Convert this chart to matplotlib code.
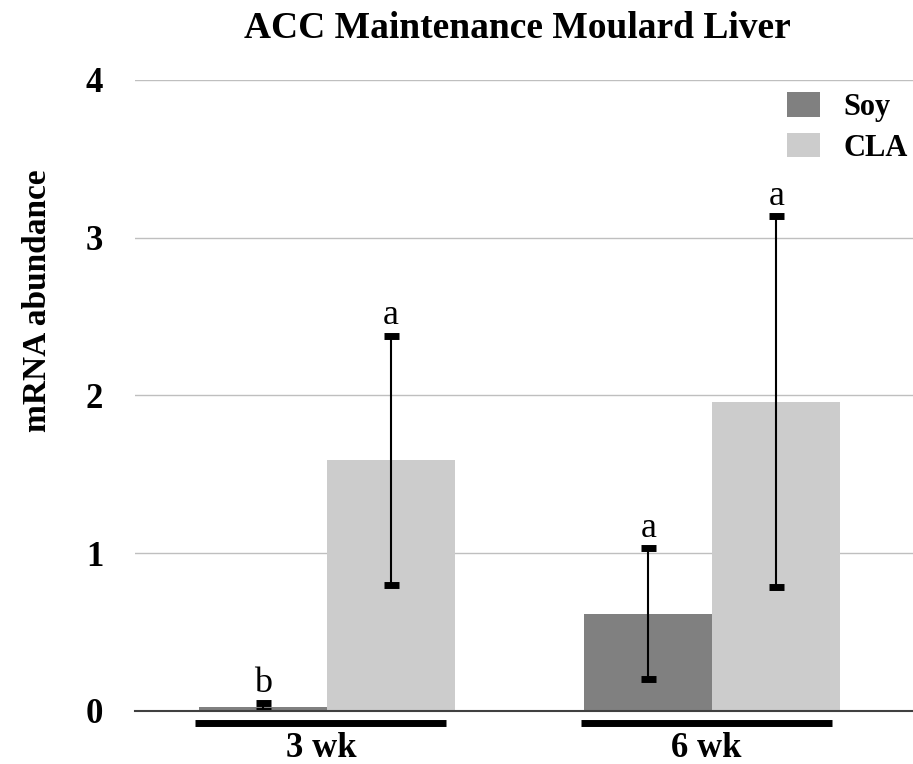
import numpy as np
import matplotlib.pyplot as plt

groups = ["3 wk", "6 wk"]
series = ["Soy", "CLA"]
soy_means = [0.025, 0.615]
soy_err = [0.025, 0.415]
cla_means = [1.59, 1.96]
cla_err = [0.79, 1.175]
soy_letters = ["b", "a"]
cla_letters = ["a", "a"]

plt.rcParams["font.family"] = ["Liberation Serif", "DejaVu Serif"]

fig = plt.figure(figsize=(9.13, 7.64), dpi=100)
ax = fig.add_axes([0.148, 0.0694, 0.852, 0.8259])

x = np.arange(len(groups))
w = 0.332
soy_x = x - w / 2
cla_x = x + w / 2

ax.bar(soy_x, soy_means, w, color="#808080", label=series[0], zorder=2)
ax.bar(cla_x, cla_means, w, color="#cccccc", label=series[1], zorder=2)

for xs, m, e, letters in [(soy_x, soy_means, soy_err, soy_letters),
                          (cla_x, cla_means, cla_err, cla_letters)]:
    ax.errorbar(xs, m, yerr=e, fmt="none", ecolor="black", elinewidth=1.5,
                capsize=5.4, capthick=5, zorder=3)
    for xi, mi, ei, lt in zip(xs, m, e, letters):
        ax.annotate(lt, (xi, mi + ei), xytext=(0, 8), textcoords="offset points",
                    ha="center", va="baseline", fontsize=26)

# thick underline under each group
for xi in x:
    ax.plot([xi - 0.342, xi + 0.31], [-0.076, -0.076], color="black", lw=5,
            solid_capstyle="butt", clip_on=False)

ax.set_xlim(-0.497, 1.52)
ax.set_ylim(0, 4)
ax.set_yticks([0, 1, 2, 3, 4])
ax.set_xticks(x - 0.015)
ax.set_xticklabels(groups, fontsize=25, fontweight="bold")
ax.tick_params(axis="x", length=0, pad=15)
ax.tick_params(axis="y", length=0, pad=23, labelsize=25)
for lab in ax.get_yticklabels():
    lab.set_fontweight("bold")

ax.grid(axis="y", color="#bfbfbf", lw=1, zorder=0)
ax.set_axisbelow(True)
for s in ["top", "right", "left"]:
    ax.spines[s].set_visible(False)
ax.spines["bottom"].set_color("#404040")
ax.spines["bottom"].set_linewidth(1.5)
ax.spines["bottom"].set_zorder(4)

ax.set_ylabel("mRNA abundance", fontsize=24, fontweight="bold")
ax.yaxis.set_label_coords(-0.106, 0.65)

ax.set_title("ACC Maintenance Moulard Liver", fontsize=27, fontweight="bold",
             pad=30, x=0.491)

ax.legend(loc="upper left", bbox_to_anchor=(763 / 913, 1 - 68 / 764),
          bbox_transform=fig.transFigure, frameon=False,
          prop={"size": 22, "weight": "bold"}, handlelength=1.08, handleheight=0.85,
          handletextpad=0.75, labelspacing=0.35, borderpad=0.3)

fig.savefig("out.png", dpi=100)
